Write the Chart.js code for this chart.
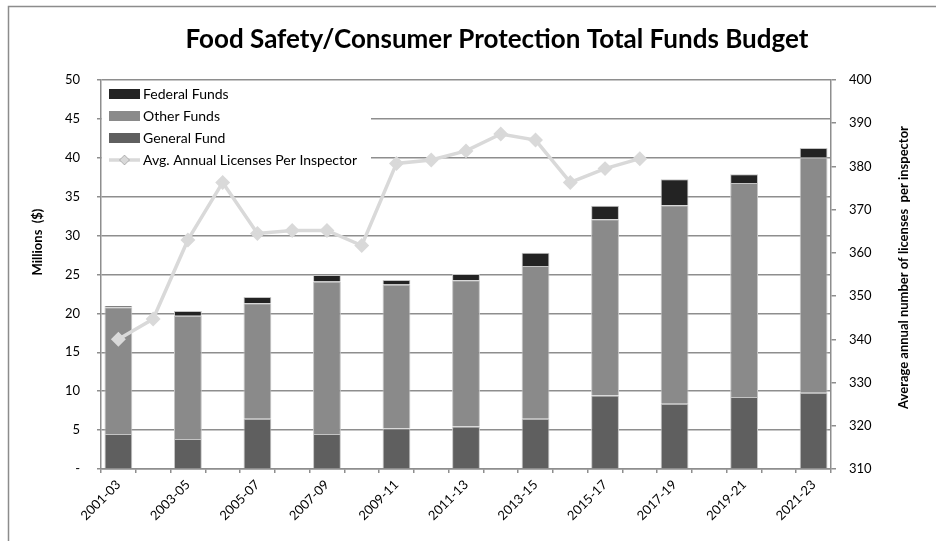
<!DOCTYPE html>
<html>
<head>
<meta charset="utf-8">
<script src="https://cdn.jsdelivr.net/npm/chart.js@4"></script>
<style>
  html, body { margin: 0; padding: 0; background: #fff; }
  #wrap { width: 936px; height: 541px; }
</style>
</head>
<body>
<div id="wrap"><canvas id="fundsChart" width="936" height="541"></canvas></div>
<script>
// Food Safety / Consumer Protection total funds budget

// biennium categories (bars)
const biennia = ['2001-03', '2003-05', '2005-07', '2007-09', '2009-11', '2011-13',
    '2013-15', '2015-17', '2017-19', '2019-21', '2021-23'];

// millions of dollars
const generalFund = [4.5, 3.85, 6.45, 4.5, 5.2, 5.45, 6.45, 9.45, 8.4, 9.25, 9.8];
const otherFunds = [16.3, 15.85, 14.85, 19.6, 18.5, 18.8, 19.65, 22.65, 25.5, 27.5, 30.25];
const federalFunds = [0.15, 0.6, 0.8, 0.85, 0.6, 0.8, 1.7, 1.75, 3.35, 1.15, 1.2];

// annual values, one per half-biennium step starting at 2001-03
const licensesPerInspector = [340.0, 344.7, 363.0, 376.3, 364.5, 365.2, 365.2, 361.7,
    380.7, 381.5, 383.6, 387.5, 386.1, 376.3, 379.5, 381.8];

// axis ranges
const fundsMin = 0, fundsMax = 50, fundsStep = 5;
const licMin = 310, licMax = 400, licStep = 10;

const chartTitle = 'Food Safety/Consumer Protection Total Funds Budget';
const leftTitle = 'Millions  ($)';
const rightTitle = 'Average annual number of licenses  per inspector';

// x axis has one slot per year, bars sit on every other slot
const axisLabels = [];
biennia.forEach((b, i) => {
    axisLabels.push(b);
    if (i < biennia.length - 1) axisLabels.push('');
});
const onBiennia = arr => axisLabels.map((l, i) => (i % 2 === 0 ? arr[i / 2] : null));

const FONT = 'Lato';
const gridGray = '#8e8e8e';

const barStyle = {
    type: 'bar',
    yAxisID: 'y',
    stack: 'funds',
    order: 1,
    borderColor: '#c4c4c4',
    borderWidth: 1,
    categoryPercentage: 1,
    barPercentage: 0.8
};

const fundsData = {
    labels: axisLabels,
    datasets: [
        {
            ...barStyle,
            label: 'General Fund',
            data: onBiennia(generalFund),
            backgroundColor: '#5f5f5f'
        },
        {
            ...barStyle,
            label: 'Other Funds',
            data: onBiennia(otherFunds),
            backgroundColor: '#8a8a8a'
        },
        {
            ...barStyle,
            label: 'Federal Funds',
            data: onBiennia(federalFunds),
            backgroundColor: '#232323'
        },
        {
            type: 'line',
            label: 'Avg. Annual Licenses Per Inspector',
            yAxisID: 'y1',
            order: 0,
            data: licensesPerInspector,
            borderColor: '#d9d9d9',
            backgroundColor: '#d9d9d9',
            borderWidth: 3.5,
            tension: 0,
            pointStyle: 'rectRot',
            pointRadius: 5,
            pointBackgroundColor: '#d9d9d9',
            pointBorderColor: '#d9d9d9'
        }
    ]
};

// title, rotated axis titles, legend box and frame
const decorPlugin = {
    id: 'decor',
    beforeDraw(chart) {
        const ctx = chart.ctx;
        ctx.save();
        ctx.strokeStyle = '#8c8c8c';
        ctx.lineWidth = 1.5;
        ctx.strokeRect(8.5, 6.5, 1000, 1000);
        ctx.restore();
    },
    afterDraw(chart) {
        const ctx = chart.ctx;
        const area = chart.chartArea;
        ctx.save();
        ctx.fillStyle = '#000';

        ctx.font = 'bold 26px ' + FONT;
        ctx.textAlign = 'center';
        ctx.textBaseline = 'alphabetic';
        ctx.fillText(chartTitle, 497, 48);

        ctx.font = 'bold 13px ' + FONT;
        ctx.textBaseline = 'middle';
        ctx.save();
        ctx.translate(37.5, 242);
        ctx.rotate(-Math.PI / 2);
        ctx.fillText(leftTitle, 0, 0);
        ctx.restore();
        ctx.save();
        ctx.translate(904, 267.5);
        ctx.rotate(-Math.PI / 2);
        ctx.fillText(rightTitle, 0, 0);
        ctx.restore();

        // legend
        ctx.fillStyle = '#fff';
        ctx.fillRect(area.left + 1, area.top + 2, 269, 89);
        const ds = chart.data.datasets;
        const rows = [ds[2], ds[1], ds[0], ds[3]];
        ctx.font = '14px ' + FONT;
        ctx.textAlign = 'left';
        rows.forEach((d, i) => {
            const y = area.top + 14 + i * 22;
            const x = area.left + 8;
            if (d.type === 'bar') {
                ctx.fillStyle = d.backgroundColor;
                ctx.fillRect(x, y - 5, 31, 10);
            } else {
                ctx.strokeStyle = d.borderColor;
                ctx.lineWidth = 3.5;
                ctx.beginPath();
                ctx.moveTo(x, y);
                ctx.lineTo(x + 31, y);
                ctx.stroke();
                Chart.helpers.drawPoint(ctx, { pointStyle: 'rectRot', radius: 5, borderWidth: 0 }, x + 15.5, y);
                ctx.fillStyle = d.borderColor;
                ctx.fill();
            }
            ctx.fillStyle = '#000';
            ctx.fillText(d.label, x + 34, y);
        });
        ctx.restore();
    }
};

const fundsConfig = {
    data: fundsData,
    options: {
        responsive: false,
        animation: false,
        layout: { padding: { top: 80, left: 0, right: 0, bottom: 0 } },
        plugins: {
            legend: { display: false },
            title: { display: false },
            tooltip: { enabled: false }
        },
        scales: {
            x: {
                stacked: true,
                offset: true,
                afterFit(scale) { scale.height = 72; },
                grid: {
                    offset: true,
                    drawOnChartArea: false,
                    drawTicks: true,
                    tickLength: 4,
                    color: gridGray,
                    lineWidth: 1.5
                },
                border: { color: gridGray, width: 1.5 },
                ticks: {
                    autoSkip: false,
                    maxRotation: 45,
                    minRotation: 45,
                    padding: 4,
                    color: '#000',
                    font: { family: FONT, size: 13 }
                }
            },
            y: {
                stacked: true,
                position: 'left',
                min: fundsMin,
                max: fundsMax,
                afterFit(scale) { scale.width = 101; },
                grid: {
                    color: gridGray,
                    lineWidth: 1.5,
                    tickLength: 4
                },
                border: { color: gridGray, width: 1.5 },
                ticks: {
                    stepSize: fundsStep,
                    padding: 17,
                    color: '#000',
                    font: { family: FONT, size: 13 },
                    callback: v => (v === 0 ? '-' : v)
                }
            },
            y1: {
                position: 'right',
                min: licMin,
                max: licMax,
                afterFit(scale) { scale.width = 105; },
                grid: {
                    drawOnChartArea: false,
                    color: gridGray,
                    lineWidth: 1.5,
                    tickLength: 5
                },
                border: { color: gridGray, width: 1.5 },
                ticks: {
                    stepSize: licStep,
                    padding: 13,
                    color: '#000',
                    font: { family: FONT, size: 13 }
                }
            }
        }
    },
    plugins: [decorPlugin]
};

const fundsChart = new Chart(document.getElementById('fundsChart'), fundsConfig);
</script>
</body>
</html>
